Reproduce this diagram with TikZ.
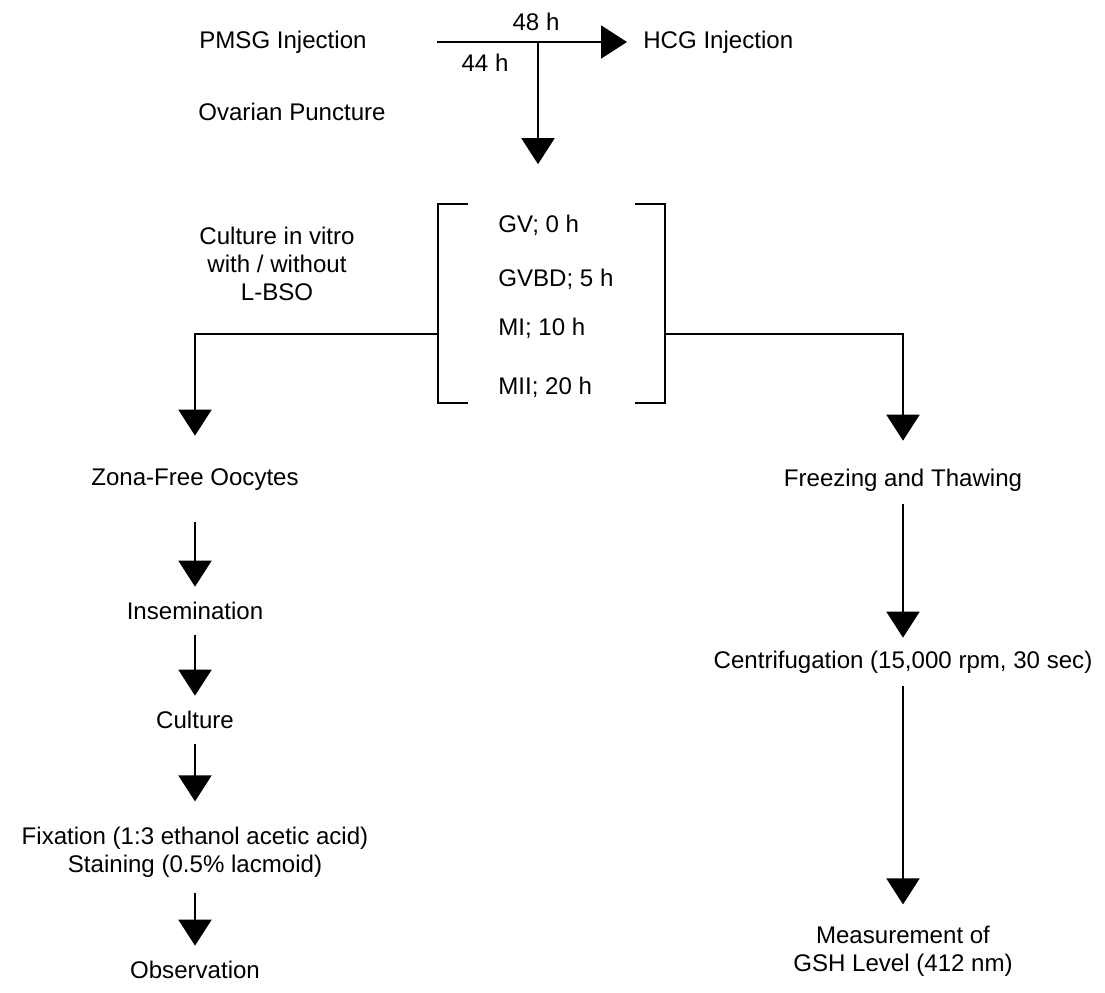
\documentclass[tikz,border=0pt]{standalone}
\usepackage{fontspec}
\setmainfont{Liberation Sans}
\usetikzlibrary{arrows.meta, positioning}

\begin{document}
\begin{tikzpicture}[
    x=0.02cm, y=-0.02cm,
    font=\fontsize{13.7}{16}\selectfont,
    txt/.style={inner sep=0pt, align=center},
    lbl/.style={inner sep=0pt, minimum height=0.96cm, align=center},
    link/.style={line width=1.1pt},
    arrow/.style={-{Triangle[length=0.52cm, width=0.66cm]}, line width=1.1pt}
]
    \useasboundingbox (0,0) rectangle (1105,992);

    % injections and puncture
    \node[lbl, anchor=west] (pmsg) at (199,42) {PMSG Injection};
    \node[lbl, anchor=west] (hcg) at (643,42) {HCG Injection};
    \node[lbl, anchor=west] (ovarian) at (198,112) {Ovarian Puncture};
    \node[txt] (invitro) at (277,264) {Culture in vitro\\with / without\\L-BSO};
    \coordinate (start) at (437,42);
    \coordinate (split) at (538,42);
    \node[txt] (t48) at (536,22) {48 h};
    \node[txt] (t44) at (485,63) {44 h};

    % maturation stages
    \node[inner sep=0pt, minimum width=4.54cm, minimum height=3.96cm] (stages) at (551.5,303.5) {};
    \node[txt, anchor=west] (gv) at (498,225) {GV; 0 h};
    \node[txt, anchor=west] (gvbd) at (498,279) {GVBD; 5 h};
    \node[txt, anchor=west] (mi) at (498,328) {MI; 10 h};
    \node[txt, anchor=west] (mii) at (498,387) {MII; 20 h};
    \coordinate (ljoin) at (438,334);
    \coordinate (rjoin) at (665,334);

    % left branch
    \node[lbl] (zona) at (195,480) {Zona-Free Oocytes};
    \node[lbl] (insem) at (195,611) {Insemination};
    \node[lbl] (culture) at (195,720) {Culture};
    \node[lbl] (fix) at (195,852) {Fixation (1:3 ethanol acetic acid)\\Staining (0.5\% lacmoid)};
    \node[lbl] (obs) at (195,970) {Observation};

    % right branch
    \node[lbl] (freeze) at (903,480) {Freezing and Thawing};
    \node[lbl] (centri) at (903,662) {Centrifugation (15,000 rpm, 30 sec)};
    \node[lbl] (gsh) at (903,951) {Measurement of\\GSH Level (412 nm)};

    % brackets
    \draw[link] ([xshift=0.6cm]stages.north west) -- (stages.north west) -- (stages.south west) -- ++(0.6cm,0);
    \draw[link] ([xshift=-0.6cm]stages.north east) -- (stages.north east) -- (stages.south east) -- ++(-0.6cm,0);

    \draw[arrow, shorten >=0.32cm] (start) -- (hcg.west);
    \draw[arrow, shorten >=0.8cm] (split) -- (split |- stages.north);
    \draw[arrow, shorten >=0.4cm] (ljoin) -| (zona);
    \draw[arrow, shorten >=0.3cm] (rjoin) -| (freeze);

    \draw[arrow, shorten <=0.36cm] (zona) -- (insem);
    \draw[arrow] (insem) -- (culture);
    \draw[arrow, shorten >=0.5cm] (culture) -- (fix);
    \draw[arrow, shorten <=0.3cm] (fix) -- (obs);

    \draw[arrow] (freeze) -- (centri);
    \draw[arrow, shorten >=0.42cm] (centri) -- (gsh);
\end{tikzpicture}
\end{document}
